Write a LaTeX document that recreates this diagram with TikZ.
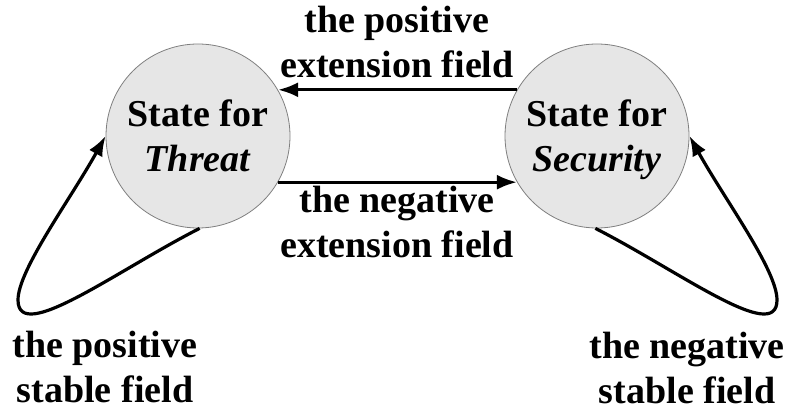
\documentclass[tikz,border=0pt]{standalone}
\usepackage{fontspec}
\setmainfont{Liberation Serif}
\usetikzlibrary{arrows.meta}
\definecolor{stfill}{HTML}{E6E6E6}
\definecolor{stdraw}{HTML}{7F7F7F}
\begin{document}
\begin{tikzpicture}[x=1pt,y=-1pt,
  statebox/.style={circle,draw=stdraw,line width=0.8pt,fill=stfill,minimum size=184pt,inner sep=0pt,
    align=center,font=\fontsize{38}{45}\selectfont\bfseries,text depth=0pt},
  lbl/.style={align=center,font=\fontsize{38}{45}\selectfont\bfseries,inner sep=0pt},
  arr/.style={line width=3.2pt,-{Latex[length=20pt,width=15pt]}}]
\useasboundingbox (0,0) rectangle (789,411);
\node[statebox] (T) at (198,136) {State for\\\textit{Threat}};
\node[statebox] (S) at (597,136) {State for\\\textit{Security}};
\draw[arr] (S.150) -- (T.30);
\draw[arr] (T.-30) -- (S.-150);
\node[lbl,anchor=base] (lt) at (397,78) {the positive\\extension field};
\node[lbl,anchor=base] (lb) at (397,258) {the negative\\extension field};
\coordinate (QL) at (18,300);
\coordinate (QR) at (777,300);
\draw[arr] (T.-89) .. controls (116,271) and (18,345) .. (QL)
  .. controls (18,270) and (70,200) .. (T.180);
\draw[arr] (S.-91) .. controls (679,271) and (777,345) .. (QR)
  .. controls (777,270) and (725,200) .. (S.0);
\node[lbl,anchor=base] (ll) at (105,402) {the positive\\stable field};
\node[lbl,anchor=base] (lr) at (687,403) {the negative\\stable field};
\end{tikzpicture}
\end{document}
